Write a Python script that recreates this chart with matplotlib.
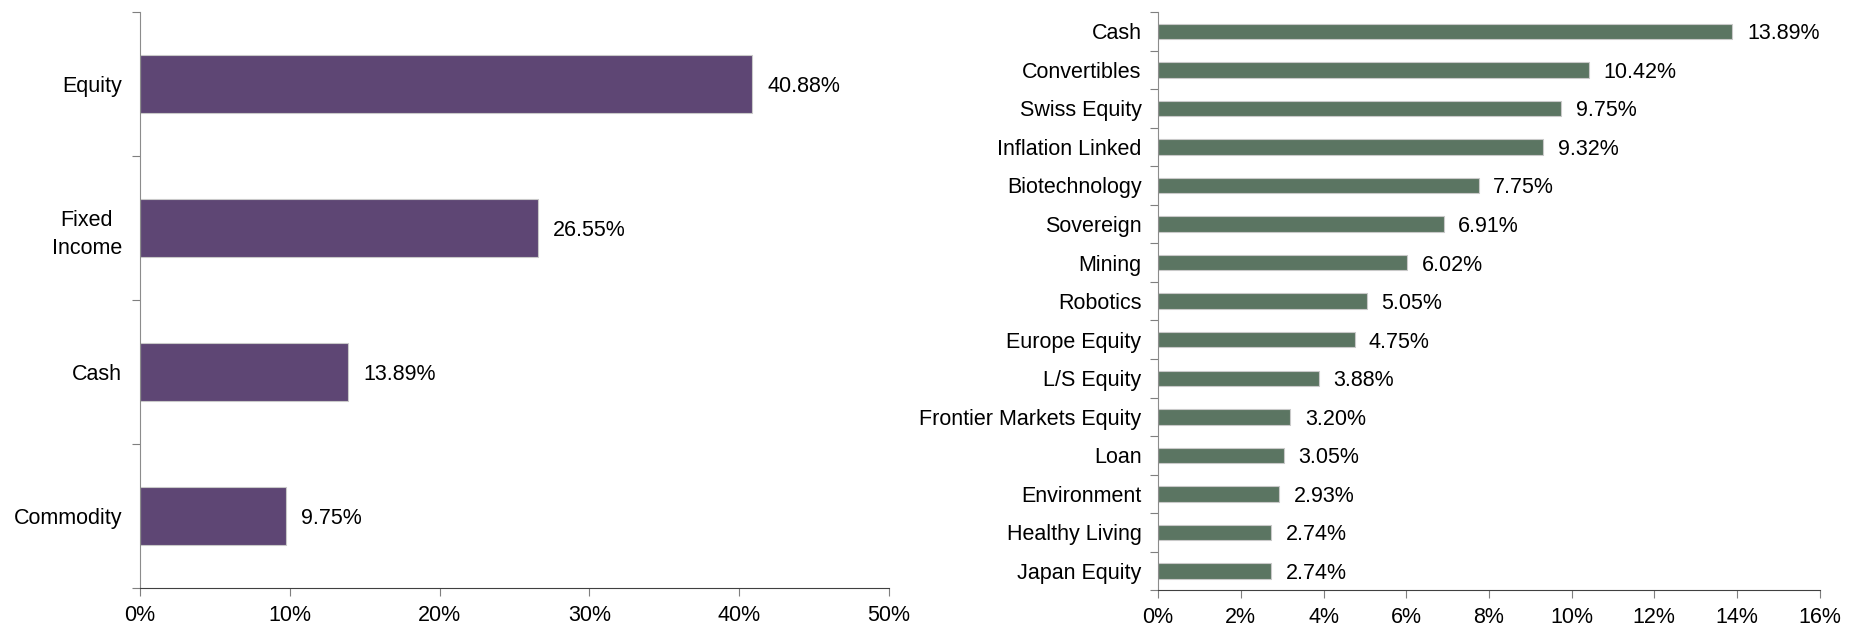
import matplotlib.pyplot as plt
from matplotlib.ticker import FuncFormatter

plt.rcParams['font.family'] = ['Liberation Sans', 'DejaVu Sans']

# left chart: asset classes
classes = ["Equity", "Fixed\nIncome", "Cash", "Commodity"]
class_vals = [40.88, 26.55, 13.89, 9.75]

# right chart: themes
themes = ["Cash", "Convertibles", "Swiss Equity", "Inflation Linked", "Biotechnology",
          "Sovereign", "Mining", "Robotics", "Europe Equity", "L/S Equity",
          "Frontier Markets Equity", "Loan", "Environment", "Healthy Living", "Japan Equity"]
theme_vals = [13.89, 10.42, 9.75, 9.32, 7.75, 6.91, 6.02, 5.05, 4.75, 3.88,
              3.20, 3.05, 2.93, 2.74, 2.74]

fig = plt.figure(figsize=(18.53, 6.3), dpi=100)
ax1 = fig.add_axes([0.0756, 0.0667, 0.404, 0.914])
ax2 = fig.add_axes([0.625, 0.063, 0.357, 0.918])

pct = FuncFormatter(lambda v, p: f"{v:.0f}%")
FS = 15.5


def draw(ax, labels, vals, color, xmax, step, pad, ypad):
    n = len(labels)
    y = list(range(n))
    ax.barh(y, vals, height=0.4, color=color, edgecolor="#C9C9C9", linewidth=0.8)
    for yi, v in zip(y, vals):
        ax.text(v + pad, yi, f"{v:.2f}%", va="center_baseline", ha="left", fontsize=FS)
    ax.set_ylim(n - 0.5, -0.5)
    ax.set_xlim(0, xmax)
    ax.set_xticks(range(0, xmax + 1, step))
    ax.xaxis.set_major_formatter(pct)
    ax.set_yticks([i - 0.5 for i in range(n + 1)])
    ax.set_yticklabels([])
    ax.set_yticks(y, minor=True)
    ax.set_yticklabels(labels, minor=True, fontsize=FS)
    ax.tick_params(axis="y", which="minor", length=0, pad=ypad)
    ax.tick_params(axis="y", which="major", length=6, color="#7F7F7F")
    ax.tick_params(axis="x", length=6, color="#7F7F7F", labelsize=FS, pad=6)
    for s in ["top", "right"]:
        ax.spines[s].set_visible(False)
    ax.spines["left"].set_color("#8C8C8C")
    ax.spines["bottom"].set_color("#404040")


draw(ax1, classes, class_vals, "#5E4674", 50, 10, 1.0, 13)
draw(ax2, themes, theme_vals, "#5B7562", 16, 2, 0.35, 12)
for t in ax1.get_yticklabels(minor=True):
    t.set_multialignment("center")
    t.set_linespacing(1.45)

fig.savefig("out.png", dpi=100)
